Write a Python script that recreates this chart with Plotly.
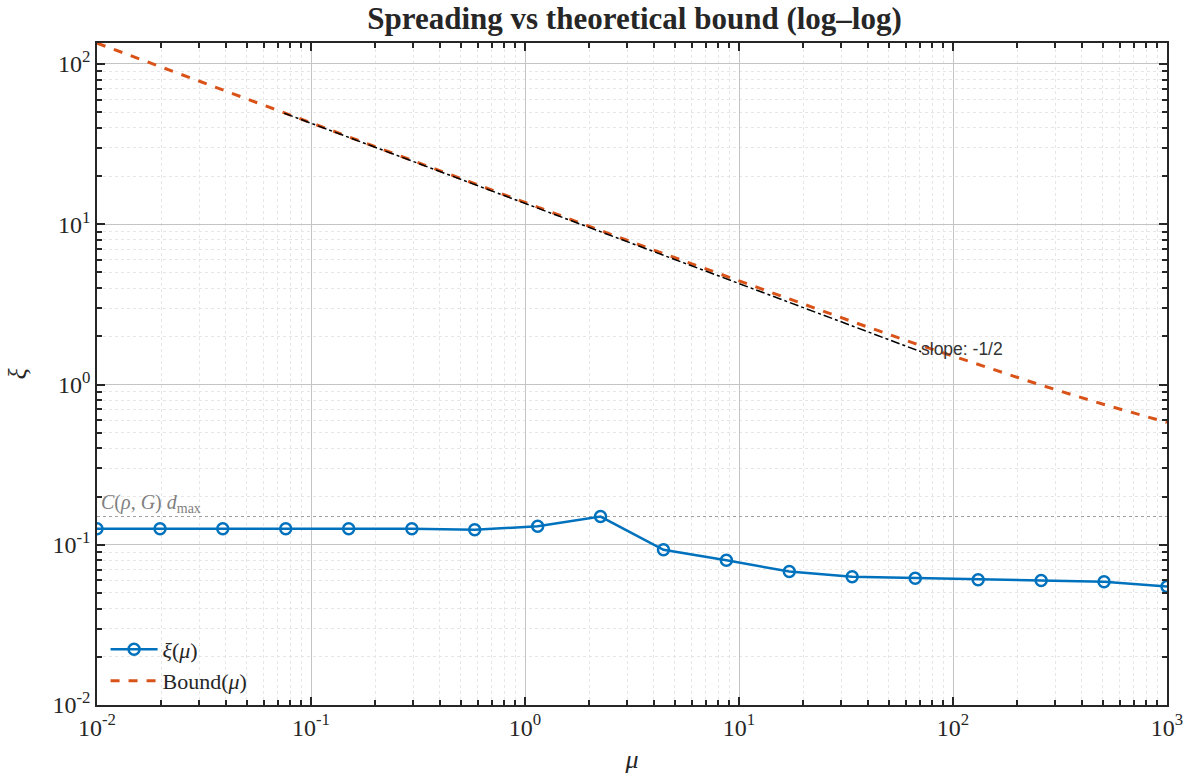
import plotly.graph_objects as go

# ---- data ----
mu = [0.01, 0.0197, 0.0387, 0.0762, 0.150, 0.296, 0.582, 1.146, 2.254,
      4.437, 8.73, 17.18, 33.8, 66.6, 131.1, 258.2, 508.0, 1000.0]
xi = [0.126, 0.126, 0.126, 0.126, 0.126, 0.126, 0.124, 0.1305, 0.150,
      0.093, 0.080, 0.068, 0.0631, 0.0618, 0.0605, 0.0598, 0.0587, 0.0548]
bound = [135.0, 96.3, 68.8, 49.1, 35.0, 25.0, 17.85, 12.76, 9.14,
         6.56, 4.72, 3.41, 2.47, 1.80, 1.33, 0.99, 0.75, 0.58]
slope_x = [0.075, 71.0]
slope_y = [49.3, 1.60]
c_level = 0.15
x_ticks = [1e-2, 1e-1, 1e0, 1e1, 1e2, 1e3]
x_ticktext = ["10<sup>-2</sup>", "10<sup>-1</sup>", "10<sup>0</sup>",
              "10<sup>1</sup>", "10<sup>2</sup>", "10<sup>3</sup>"]
y_ticks = [1e-2, 1e-1, 1e0, 1e1, 1e2]
y_ticktext = ["10<sup>-2</sup>", "10<sup>-1</sup>", "10<sup>0</sup>",
              "10<sup>1</sup>", "10<sup>2</sup>"]

SERIF = "Liberation Serif"
BLUE = "#0072BD"
ORANGE = "#D95319"
INK = "#262626"

fig = go.Figure()

# C(rho,G) d_max reference level
fig.add_trace(go.Scatter(
    x=[mu[0], mu[-1]], y=[c_level, c_level], mode="lines",
    line=dict(color="#a0a0a0", width=1, dash="dot"),
    showlegend=False, hoverinfo="skip"))

fig.add_trace(go.Scatter(
    x=mu, y=xi, mode="lines+markers", name="<i>ξ</i>(<i>μ</i>)",
    line=dict(color=BLUE, width=2.5),
    marker=dict(symbol="circle-open", size=11, color=BLUE,
                line=dict(width=2.5, color=BLUE))))

fig.add_trace(go.Scatter(
    x=mu, y=bound, mode="lines", name="Bound(<i>μ</i>)",
    line=dict(color=ORANGE, width=3, dash="dash")))

fig.add_trace(go.Scatter(
    x=slope_x, y=slope_y, mode="lines",
    line=dict(color="black", width=1.5, dash="dashdot"),
    showlegend=False, hoverinfo="skip"))

fig.add_annotation(x=1.842, y=0.219, xref="x", yref="y",
                   text="slope: -1/2", showarrow=False,
                   xanchor="left", yanchor="middle",
                   font=dict(family="Liberation Sans", size=17.5, color="#333333"))

fig.add_annotation(x=-1.99, y=-0.745, xref="x", yref="y",
                   text="<i>C</i>(<i>ρ</i>, <i>G</i>) <i>d</i><sub>max</sub>",
                   showarrow=False, xanchor="left", yanchor="middle",
                   font=dict(family=SERIF, size=20, color="#808080"))

axis_common = dict(
    type="log", showline=True, linecolor=INK, linewidth=1.5,
    mirror="allticks", ticks="inside", ticklen=8, tickwidth=1.5,
    tickcolor=INK, showgrid=True, gridcolor="#c4c4c4", gridwidth=1,
    zeroline=False,
    tickfont=dict(family=SERIF, size=24, color=INK),
    minor=dict(dtick="D1", ticks="inside", ticklen=5, tickcolor=INK,
               showgrid=True, gridcolor="#e6e6e6", griddash="dot", gridwidth=1),
)

fig.update_xaxes(**axis_common, range=[-2, 3], tickvals=x_ticks,
                 ticktext=x_ticktext,
                 title=dict(text="<i>μ</i>", font=dict(family=SERIF, size=26,
                                                      color=INK),
                            standoff=10))
fig.update_yaxes(**axis_common, range=[-2, 2.131], tickvals=y_ticks,
                 ticktext=y_ticktext,
                 title=dict(text="<i>ξ</i>", font=dict(family=SERIF, size=26,
                                                      color=INK),
                            standoff=18))

fig.update_layout(
    width=1195, height=782,
    margin=dict(l=97, r=20, t=43, b=77),
    paper_bgcolor="white", plot_bgcolor="white",
    title=dict(text="<b>Spreading vs theoretical bound (log–log)</b>",
               x=0.531, xanchor="center", y=0.977, yanchor="middle",
               yref="container",
               font=dict(family=SERIF, size=31, color=INK)),
    legend=dict(x=0.008, y=0.004, xanchor="left", yanchor="bottom",
                bgcolor="rgba(255,255,255,0)", borderwidth=0,
                font=dict(family=SERIF, size=22, color=INK),
                itemwidth=47, tracegroupgap=0),
    showlegend=True,
)

fig.write_html("out.html", config={"displayModeBar": False},
               post_script="document.body.style.margin='0';")
